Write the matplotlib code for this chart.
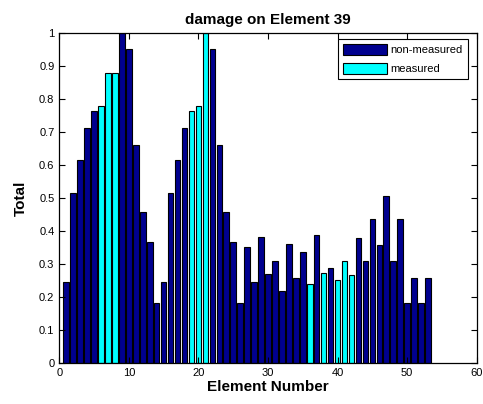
import matplotlib
matplotlib.use("Agg")
import matplotlib.pyplot as plt
import numpy as np

plt.rcParams['font.family'] = ['Liberation Sans', 'DejaVu Sans']

elements = list(range(1, 54))
total = [0.247, 0.517, 0.616, 0.714, 0.765, 0.779, 0.879, 0.879, 1.0, 0.952,
         0.662, 0.459, 0.369, 0.184, 0.247, 0.517, 0.616, 0.714, 0.765, 0.779,
         1.0, 0.952, 0.662, 0.459, 0.369, 0.184, 0.351, 0.247, 0.383, 0.272,
         0.310, 0.219, 0.363, 0.258, 0.336, 0.239, 0.389, 0.274, 0.289, 0.254,
         0.310, 0.268, 0.379, 0.310, 0.438, 0.359, 0.506, 0.310, 0.438, 0.183,
         0.260, 0.183, 0.260]
measured = [6, 7, 8, 19, 20, 21, 36, 38, 40, 41, 42]

title = "damage on Element 39"
xlabel = "Element Number"
ylabel = "Total"
labels = ["non-measured", "measured"]

navy = "#00008F"
cyan = "#00FFFF"

fig = plt.figure(figsize=(4.83, 4.04), dpi=100)
ax = fig.add_axes([0.1228, 0.1007, 0.8642, 0.8168])

x = np.array(elements)
y = np.array(total)
is_meas = np.isin(x, measured)

ax.bar(x[~is_meas], y[~is_meas], width=0.8, color=navy, edgecolor="black",
       linewidth=0.8, label=labels[0])
ax.bar(x[is_meas], y[is_meas], width=0.8, color=cyan, edgecolor="black",
       linewidth=0.8, label=labels[1])

ax.set_xlim(0, 60)
ax.set_ylim(0, 1)
ax.set_xticks(range(0, 61, 10))
ax.set_yticks(np.round(np.arange(0, 1.01, 0.1), 1))
ax.set_yticklabels(["0", "0.1", "0.2", "0.3", "0.4", "0.5", "0.6", "0.7", "0.8", "0.9", "1"])
ax.tick_params(direction="in", top=True, right=True, labelsize=8, length=4, width=0.8)
for s in ax.spines.values():
    s.set_linewidth(0.9)

ax.set_title(title, fontsize=11, fontweight="bold", pad=7)
ax.set_xlabel(xlabel, fontsize=11, fontweight="bold", labelpad=1)
ax.set_ylabel(ylabel, fontsize=11, fontweight="bold", labelpad=8)

leg = ax.legend(loc="upper right", bbox_to_anchor=(0.9785, 0.9827), fontsize=8,
                fancybox=False, edgecolor="black", framealpha=1,
                handlelength=3.9, handleheight=1.15, borderpad=0.45,
                labelspacing=0.65, handletextpad=0.35, borderaxespad=0)
leg.get_frame().set_linewidth(0.8)

fig.savefig("out.png", dpi=100)
